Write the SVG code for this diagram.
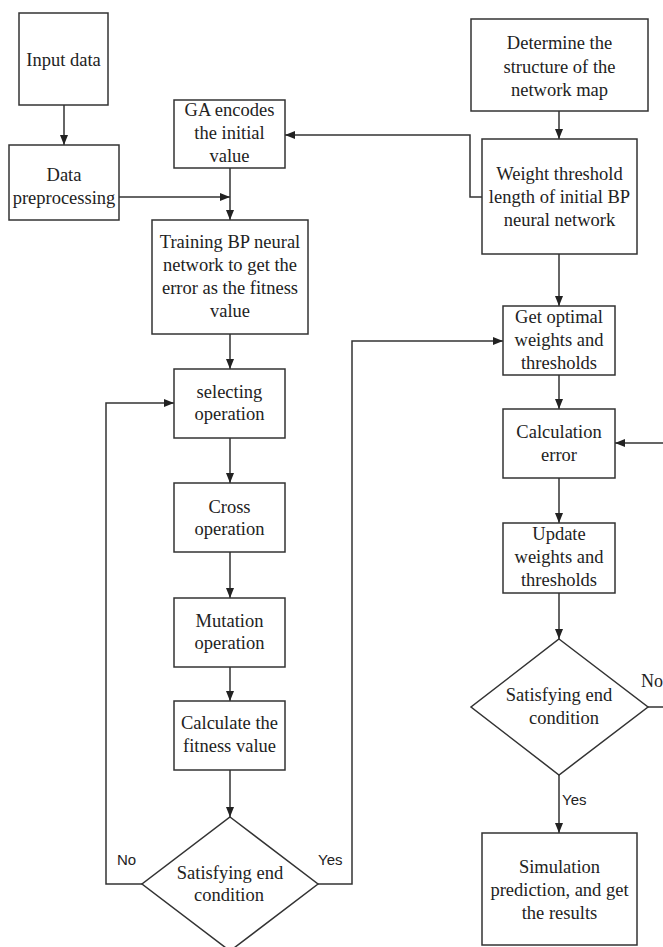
<svg xmlns="http://www.w3.org/2000/svg" width="663" height="947" viewBox="0 0 663 947">
<style>
.box{fill:#fff;stroke:#333;stroke-width:1.5}
.t{font-family:"Liberation Serif","Times New Roman",serif;font-size:18.5px;fill:#222;text-anchor:middle}
.s{font-family:"Liberation Sans",Arial,sans-serif;font-size:15px;fill:#222}
.c{fill:none;stroke:#333;stroke-width:1.5}
</style>
<defs>
<marker id="ah" markerUnits="userSpaceOnUse" markerWidth="10" markerHeight="10" viewBox="0 0 10 10" refX="10" refY="5" orient="auto">
<path d="M0,1 L10,5 L0,9 Z" fill="#222"/>
</marker>
</defs>
<rect width="663" height="947" fill="#fff"/>
<g id="connectors">
<path class="c" d="M64,105 V145" marker-end="url(#ah)"/>
<path class="c" d="M119,197 H230" marker-end="url(#ah)"/>
<path class="c" d="M230,168 V220" marker-end="url(#ah)"/>
<path class="c" d="M482,197 H470 V135 H285" marker-end="url(#ah)"/>
<path class="c" d="M559,111 V139" marker-end="url(#ah)"/>
<path class="c" d="M230,334 V369" marker-end="url(#ah)"/>
<path class="c" d="M559,254 V306" marker-end="url(#ah)"/>
<path class="c" d="M559,375 V409" marker-end="url(#ah)"/>
<path class="c" d="M230,438 V483" marker-end="url(#ah)"/>
<path class="c" d="M230,552 V598" marker-end="url(#ah)"/>
<path class="c" d="M230,667 V701" marker-end="url(#ah)"/>
<path class="c" d="M230,770 V817" marker-end="url(#ah)"/>
<path class="c" d="M142,884 H106 V403 H174" marker-end="url(#ah)"/>
<path class="c" d="M318,884 H352 V341 H503" marker-end="url(#ah)"/>
<path class="c" d="M559,478 V523" marker-end="url(#ah)"/>
<path class="c" d="M559,593 V639" marker-end="url(#ah)"/>
<path class="c" d="M648,707 H670 V443 H615" marker-end="url(#ah)"/>
<path class="c" d="M559,775 V833" marker-end="url(#ah)"/>
<text class="s" x="117" y="865">No</text>
<text class="s" x="318" y="865">Yes</text>
<text class="t" x="641" y="687" style="text-anchor:start;font-size:18px">No</text>
<text class="s" x="562" y="805">Yes</text>
</g>
<g id="input">
<rect class="box" x="19" y="13" width="89" height="92"/>
<text class="t" x="63.5" y="66">Input data</text>
</g>
<g id="preprocess">
<rect class="box" x="9" y="145" width="110" height="75"/>
<text class="t" x="64" y="181">Data</text>
<text class="t" x="64" y="204">preprocessing</text>
</g>
<g id="ga">
<rect class="box" x="174" y="100" width="111" height="68"/>
<text class="t" x="229.5" y="116">GA encodes</text>
<text class="t" x="229.5" y="139">the initial</text>
<text class="t" x="229.5" y="162">value</text>
</g>
<g id="determine">
<rect class="box" x="471" y="19" width="177" height="92"/>
<text class="t" x="559.5" y="49">Determine the</text>
<text class="t" x="559.5" y="73">structure of the</text>
<text class="t" x="559.5" y="96">network map</text>
</g>
<g id="weight">
<rect class="box" x="482" y="139" width="155" height="115"/>
<text class="t" x="559.5" y="180">Weight threshold</text>
<text class="t" x="559.5" y="203">length of initial BP</text>
<text class="t" x="559.5" y="226">neural network</text>
</g>
<g id="training">
<rect class="box" x="152" y="220" width="156" height="114"/>
<text class="t" x="230" y="248">Training BP neural</text>
<text class="t" x="230" y="271">network to get the</text>
<text class="t" x="230" y="294">error as the fitness</text>
<text class="t" x="230" y="317">value</text>
</g>
<g id="selecting">
<rect class="box" x="174" y="369" width="111" height="69"/>
<text class="t" x="229.5" y="398">selecting</text>
<text class="t" x="229.5" y="420">operation</text>
</g>
<g id="optimal">
<rect class="box" x="503" y="306" width="112" height="69"/>
<text class="t" x="559" y="323">Get optimal</text>
<text class="t" x="559" y="346">weights and</text>
<text class="t" x="559" y="369">thresholds</text>
</g>
<g id="calcerror">
<rect class="box" x="503" y="409" width="112" height="69"/>
<text class="t" x="559" y="438">Calculation</text>
<text class="t" x="559" y="461">error</text>
</g>
<g id="cross">
<rect class="box" x="174" y="483" width="111" height="69"/>
<text class="t" x="229.5" y="513">Cross</text>
<text class="t" x="229.5" y="535">operation</text>
</g>
<g id="update">
<rect class="box" x="503" y="523" width="112" height="70"/>
<text class="t" x="559" y="540">Update</text>
<text class="t" x="559" y="563">weights and</text>
<text class="t" x="559" y="586">thresholds</text>
</g>
<g id="mutation">
<rect class="box" x="174" y="598" width="111" height="69"/>
<text class="t" x="229.5" y="627">Mutation</text>
<text class="t" x="229.5" y="649">operation</text>
</g>
<g id="calcfit">
<rect class="box" x="174" y="701" width="111" height="69"/>
<text class="t" x="229.5" y="729">Calculate the</text>
<text class="t" x="229.5" y="752">fitness value</text>
</g>
<g id="decision2">
<polygon class="box" points="559,639 648,707 559,775 471,707"/>
<text class="t" x="559" y="701">Satisfying end</text>
<text class="t" x="564" y="724">condition</text>
</g>
<g id="decision1">
<polygon class="box" points="230,817 318,884 230,951 142,884"/>
<text class="t" x="230" y="879">Satisfying end</text>
<text class="t" x="229" y="901">condition</text>
</g>
<g id="simulation">
<rect class="box" x="482" y="833" width="155" height="112"/>
<text class="t" x="559.5" y="873">Simulation</text>
<text class="t" x="559.5" y="896">prediction, and get</text>
<text class="t" x="559.5" y="919">the results</text>
</g>
</svg>
